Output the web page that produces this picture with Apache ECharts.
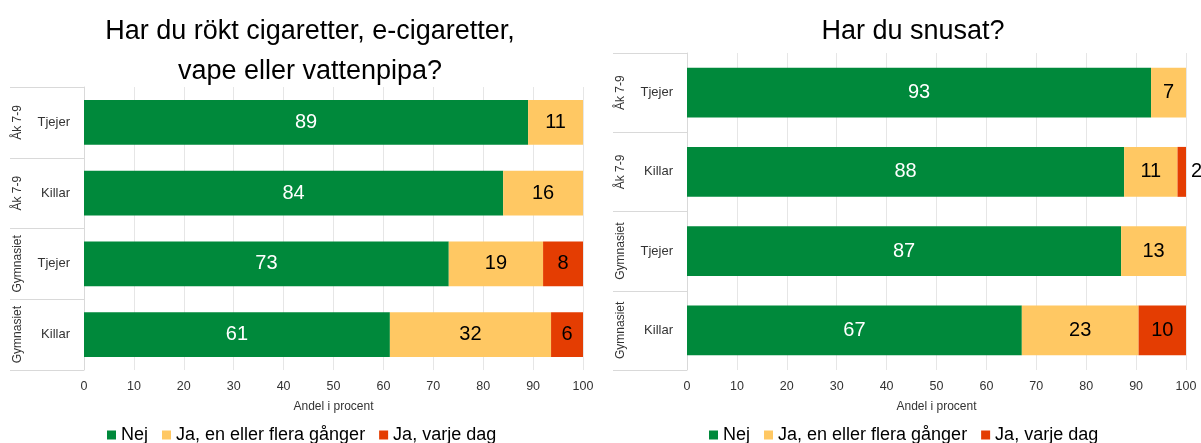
<!DOCTYPE html>
<html><head><meta charset="utf-8">
<script src="https://cdn.jsdelivr.net/npm/echarts@6/dist/echarts.min.js"></script>
<style>html,body{margin:0;padding:0;background:#fff}#c{width:1201px;height:443px}</style>
</head><body><div id="c"></div>
<script>
const groups = ['Åk 7-9', 'Åk 7-9', 'Gymnasiet', 'Gymnasiet'];
const genders = ['Tjejer', 'Killar', 'Tjejer', 'Killar'];
const seriesNames = ['Nej', 'Ja, en eller flera gånger', 'Ja, varje dag'];
const titleLeft = 'Har du rökt cigaretter, e-cigaretter,\nvape eller vattenpipa?';
const titleRight = 'Har du snusat?';
const xTicks = [0, 10, 20, 30, 40, 50, 60, 70, 80, 90, 100];
const axisName = 'Andel i procent';
// Left chart
const rokNej = [89, 84, 73.1, 61.3];
const rokJa = [11, 16, 18.9, 32.3];
const rokDag = [0, 0, 8, 6.4];
// Right chart
const snusNej = [93, 87.6, 87, 67.1];
const snusJa = [7, 10.7, 13, 23.4];
const snusDag = [0, 1.7, 0, 9.5];

const colors = ['#00893B', '#FFC863', '#E43D02'];
const FONT = 'Liberation Sans, Arial, sans-serif';
const cats = genders.map((g, i) => i);

function gridAxes(gi) {
  return [
    {
      type: 'category', gridIndex: gi, data: cats, inverse: true,
      axisLine: { show: true, lineStyle: { color: '#d9d9d9' } },
      axisTick: { show: true, length: 74, interval: 0, lineStyle: { color: '#d9d9d9' } },
      axisLabel: { interval: 0, formatter: (v) => genders[+v], margin: 14, fontSize: 13, color: '#333', fontFamily: FONT }
    },
    {
      type: 'category', gridIndex: gi, data: cats, inverse: true, position: 'left',
      axisLine: { show: false }, axisTick: { show: false },
      axisLabel: { interval: 0, formatter: (v) => groups[+v], rotate: 90, margin: 60, fontSize: 12, color: '#333', fontFamily: FONT }
    }
  ];
}
function xAx(gi) {
  return {
    type: 'value', gridIndex: gi, min: 0, max: 100, interval: 10,
    name: axisName, nameLocation: 'middle', nameGap: 31,
    nameTextStyle: { fontSize: 12, color: '#333', fontFamily: FONT },
    axisLine: { show: false }, axisTick: { show: false },
    axisLabel: { fontSize: 12.5, color: '#333', margin: 10, fontFamily: FONT,
      formatter: v => xTicks.includes(v) ? String(v) : '' },
    splitLine: { show: true, lineStyle: { color: '#e6e6e6' } }
  };
}
function mkSeries(vals, idx, gi) {
  return {
    type: 'bar', name: seriesNames[idx], stack: 's' + gi,
    xAxisIndex: gi, yAxisIndex: gi * 2,
    barCategoryGap: '37%', itemStyle: { color: colors[idx] },
    data: vals.map(v => {
      const d = { value: v };
      if (v > 0 && v < 4) d.label = { position: 'right', color: '#000' };
      return d;
    }),
    label: {
      show: true, position: 'inside', fontFamily: FONT,
      fontSize: 20, color: idx === 0 ? '#fff' : '#000',
      formatter: p => p.value > 0 ? String(Math.round(p.value)) : ''
    }
  };
}
const legendBase = { data: seriesNames, top: 421, itemWidth: 9, itemHeight: 9, itemGap: 14,
  icon: 'rect', textStyle: { fontSize: 18, color: '#000', fontFamily: FONT }, selectedMode: false };
const chart = echarts.init(document.getElementById('c'));
chart.setOption({
  animation: false,
  textStyle: { fontFamily: FONT },
  title: [
    { text: titleLeft, left: 305, top: 7, textAlign: 'center',
      textStyle: { fontSize: 27, fontWeight: 'normal', color: '#000', lineHeight: 40, fontFamily: FONT } },
    { text: titleRight, left: 908, top: 7, textAlign: 'center',
      textStyle: { fontSize: 27, fontWeight: 'normal', color: '#000', lineHeight: 40, fontFamily: FONT } }
  ],
  legend: [
    Object.assign({}, legendBase, { left: 102 }),
    Object.assign({}, legendBase, { left: 704 })
  ],
  grid: [
    { left: 84, top: 87, width: 499, height: 283 },
    { left: 687, top: 53, width: 499, height: 317 }
  ],
  xAxis: [xAx(0), xAx(1)],
  yAxis: [...gridAxes(0), ...gridAxes(1)],
  series: [
    mkSeries(rokNej, 0, 0), mkSeries(rokJa, 1, 0), mkSeries(rokDag, 2, 0),
    mkSeries(snusNej, 0, 1), mkSeries(snusJa, 1, 1), mkSeries(snusDag, 2, 1)
  ]
});
</script></body></html>
